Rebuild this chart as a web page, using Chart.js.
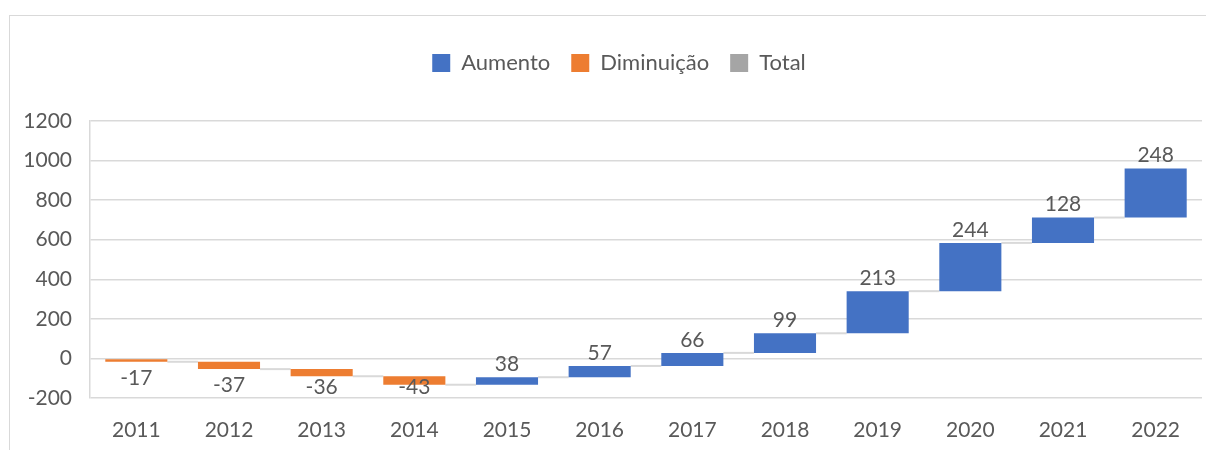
<!DOCTYPE html>
<html>
<head>
<meta charset="utf-8">
<script src="https://cdn.jsdelivr.net/npm/chart.js@4/dist/chart.umd.min.js"></script>
<style>
  html, body { margin: 0; padding: 0; background: #fff; }
  #wrap { position: relative; width: 1206px; height: 450px; overflow: hidden; }
  #frame { position: absolute; left: 9px; top: 15px; width: 1300px; height: 500px;
           border-top: 1.5px solid #d9d9d9; border-left: 1.5px solid #d9d9d9; box-sizing: border-box; }
  canvas { position: absolute; left: 0; top: 0; }
</style>
</head>
<body>
<div id="wrap">
  <div id="frame"></div>
  <canvas id="c" width="1206" height="450"></canvas>
</div>
<script>
const categories = ['2011','2012','2013','2014','2015','2016','2017','2018','2019','2020','2021','2022'];
const changes = [-17, -37, -36, -43, 38, 57, 66, 99, 213, 244, 128, 248];
const yTicks = [-200, 0, 200, 400, 600, 800, 1000, 1200];
const seriesNames = ['Aumento', 'Diminuição', 'Total'];
const seriesColors = ['#4472C4', '#ED7D31', '#A5A5A5'];

// running totals (waterfall start/end)
const starts = [], ends = [];
let run = 0;
changes.forEach(v => { starts.push(run); run += v; ends.push(run); });

const upData = changes.map((v, i) => v >= 0 ? [starts[i], ends[i]] : null);
const downData = changes.map((v, i) => v < 0 ? [starts[i], ends[i]] : null);
const totalData = changes.map(() => null);

const FONT = 'Lato, "Open Sans", sans-serif';
const TXT = '#595959';

const connectorPlugin = {
  id: 'connectors',
  beforeDatasetsDraw(chart) {
    const ctx = chart.ctx, y = chart.scales.y;
    const metas = [chart.getDatasetMeta(0), chart.getDatasetMeta(1)];
    const bar = i => upData[i] ? metas[0].data[i] : metas[1].data[i];
    ctx.save();
    ctx.strokeStyle = '#d9d9d9';
    ctx.lineWidth = 2;
    for (let i = 0; i < categories.length - 1; i++) {
      const a = bar(i), b = bar(i + 1);
      const yp = y.getPixelForValue(ends[i]);
      ctx.beginPath();
      ctx.moveTo(a.x + a.width / 2, yp);
      ctx.lineTo(b.x - b.width / 2, yp);
      ctx.stroke();
    }
    ctx.restore();
  }
};

const labelPlugin = {
  id: 'valueLabels',
  afterDatasetsDraw(chart) {
    const ctx = chart.ctx, y = chart.scales.y, area = chart.chartArea;
    ctx.save();
    ctx.font = '21px ' + FONT;
    ctx.fillStyle = TXT;
    ctx.textAlign = 'center';
    ctx.textBaseline = 'middle';
    changes.forEach((v, i) => {
      const meta = chart.getDatasetMeta(v >= 0 ? 0 : 1);
      const el = meta.data[i];
      let cy;
      if (v >= 0) {
        cy = y.getPixelForValue(ends[i]) - 13;
      } else {
        cy = Math.min(y.getPixelForValue(ends[i]) + 16, area.bottom - 11);
      }
      ctx.fillText(String(v), el.x, cy);
    });
    ctx.restore();
  }
};

const legendSizePlugin = {
  id: 'legendSize',
  beforeInit(chart) {
    const orig = chart.legend.fit;
    chart.legend.fit = function () {
      orig.call(this);
      this.height = 90;
    };
  },
  afterLayout(chart) {
    chart.legend.left += 13;
    chart.legend.right += 13;
  }
};

new Chart(document.getElementById('c'), {
  type: 'bar',
  data: {
    labels: categories,
    datasets: [
      { label: seriesNames[0], data: upData, backgroundColor: seriesColors[0], skipNull: true },
      { label: seriesNames[1], data: downData, backgroundColor: seriesColors[1], skipNull: true },
      { label: seriesNames[2], data: totalData, backgroundColor: seriesColors[2], skipNull: true }
    ]
  },
  options: {
    responsive: false,
    animation: false,
    devicePixelRatio: 1,
    layout: { padding: { left: 10, right: 4, top: 31, bottom: 0 } },
    datasets: { bar: { categoryPercentage: 1, barPercentage: 0.67 } },
    plugins: {
      legend: {
        position: 'top',
        align: 'center',
        labels: {
          boxWidth: 18, boxHeight: 18, padding: 21,
          color: TXT, font: { family: FONT, size: 22 }
        }
      },
      tooltip: { enabled: false }
    },
    scales: {
      x: {
        grid: { display: false, drawTicks: false },
        border: { display: false },
        ticks: { color: TXT, font: { family: FONT, size: 21 }, padding: 20, maxRotation: 0 },
        afterFit(s) { s.height = 52; }
      },
      y: {
        min: -200, max: 1200,
        afterBuildTicks(s) { s.ticks = yTicks.map(v => ({ value: v })); },
        grid: { color: '#d9d9d9', lineWidth: 1.5, drawTicks: false },
        border: { display: true, color: '#d9d9d9', width: 1.5 },
        ticks: { color: TXT, font: { family: FONT, size: 21 }, padding: 18, callback: v => String(v) },
        afterFit(s) { s.width = 80; }
      }
    }
  },
  plugins: [legendSizePlugin, connectorPlugin, labelPlugin]
});
</script>
</body>
</html>
